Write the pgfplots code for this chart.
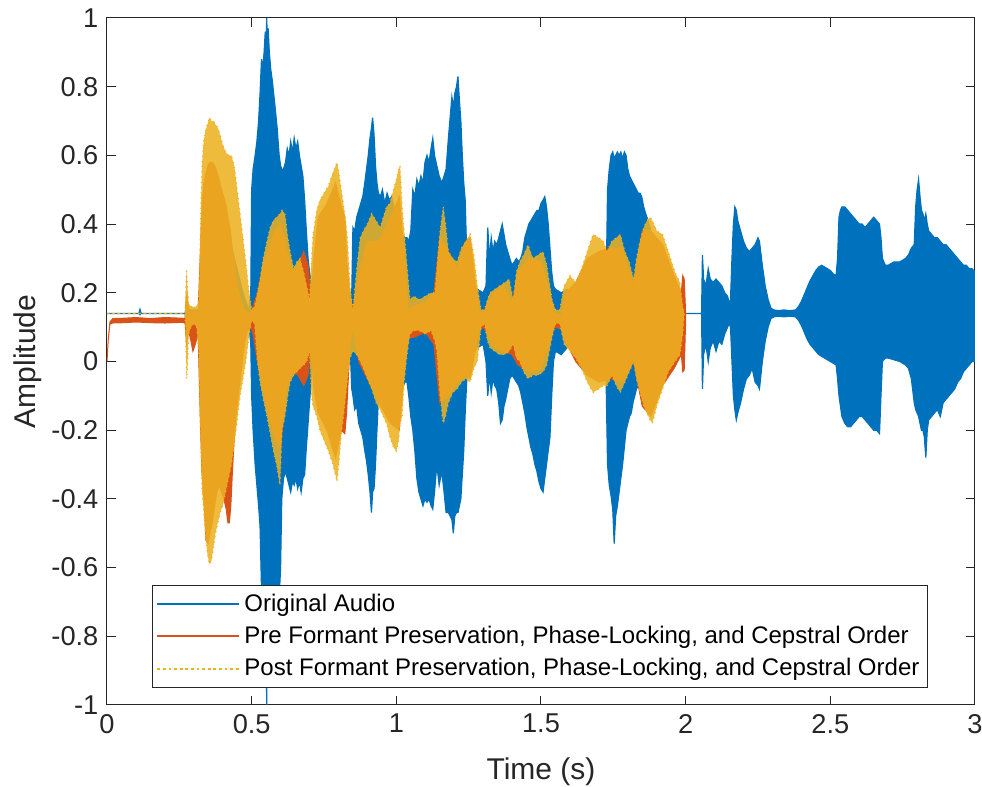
\documentclass[border=0pt]{standalone}
\usepackage{fontspec}
\setmainfont{Liberation Sans}
\usepackage{pgfplots}
\usepackage{pgfplotstable}
\pgfplotsset{compat=1.18}
\definecolor{mblue}{rgb}{0,0.447,0.741}
\definecolor{mred}{rgb}{0.85,0.325,0.098}
\definecolor{myellow}{rgb}{0.929,0.694,0.125}
\definecolor{axgray}{rgb}{0.15,0.15,0.15}

\pgfplotstableread{
t hi lo
0.000 0.140 0.140
0.110 0.140 0.140
0.114 0.152 0.136
0.118 0.140 0.140
0.270 0.140 0.140
0.276 0.170 0.110
0.285 0.150 0.125
0.320 0.150 0.125
0.330 0.300 -0.050
0.360 0.400 -0.200
0.400 0.450 -0.200
0.440 0.300 -0.050
0.470 0.200 0.050
0.490 0.150 0.110
0.497 0.200 0.050
0.500 0.500 -0.100
0.505 0.560 -0.200
0.512 0.600 -0.300
0.518 0.640 -0.360
0.524 0.700 -0.420
0.529 0.780 -0.480
0.534 0.880 -0.660
0.538 0.850 -0.720
0.543 0.900 -0.750
0.547 0.960 -0.780
0.550 0.920 -0.800
0.552 1.000 -1.000
0.554 0.940 -0.820
0.557 0.970 -0.800
0.561 0.900 -0.780
0.566 0.850 -0.760
0.571 0.820 -0.740
0.576 0.780 -0.720
0.581 0.740 -0.710
0.588 0.680 -0.700
0.595 0.600 -0.690
0.600 0.570 -0.600
0.604 0.560 -0.400
0.610 0.560 -0.340
0.617 0.580 -0.320
0.623 0.620 -0.340
0.629 0.600 -0.360
0.635 0.640 -0.380
0.641 0.610 -0.350
0.647 0.650 -0.360
0.653 0.620 -0.340
0.659 0.640 -0.370
0.665 0.600 -0.350
0.671 0.570 -0.380
0.677 0.540 -0.340
0.683 0.470 -0.330
0.689 0.380 -0.250
0.695 0.300 -0.180
0.700 0.260 -0.120
0.706 0.230 -0.050
0.712 0.220 0.000
0.730 0.240 -0.050
0.760 0.250 -0.100
0.790 0.260 -0.120
0.820 0.240 -0.080
0.840 0.200 0.050
0.846 0.200 -0.080
0.850 0.390 -0.100
0.856 0.380 -0.140
0.863 0.420 -0.130
0.870 0.440 -0.180
0.877 0.460 -0.200
0.884 0.480 -0.220
0.891 0.520 -0.260
0.897 0.560 -0.290
0.903 0.600 -0.330
0.909 0.650 -0.380
0.914 0.680 -0.440
0.918 0.710 -0.380
0.923 0.660 -0.370
0.928 0.570 -0.300
0.933 0.520 -0.200
0.938 0.490 -0.110
0.945 0.480 -0.110
0.952 0.500 -0.120
0.960 0.460 -0.100
0.968 0.490 -0.110
0.976 0.470 -0.120
0.984 0.480 -0.100
0.992 0.450 -0.120
1.000 0.440 -0.120
1.010 0.400 -0.100
1.020 0.370 -0.080
1.030 0.360 -0.060
1.037 0.360 -0.060
1.043 0.350 -0.100
1.050 0.380 -0.160
1.057 0.500 -0.200
1.064 0.480 -0.260
1.071 0.530 -0.340
1.078 0.510 -0.380
1.085 0.540 -0.400
1.092 0.520 -0.420
1.099 0.580 -0.400
1.106 0.600 -0.410
1.113 0.580 -0.400
1.120 0.620 -0.420
1.126 0.650 -0.430
1.132 0.600 -0.380
1.140 0.570 -0.300
1.148 0.540 -0.360
1.157 0.520 -0.320
1.165 0.540 -0.380
1.172 0.560 -0.440
1.180 0.650 -0.440
1.186 0.710 -0.450
1.192 0.770 -0.460
1.197 0.740 -0.500
1.202 0.780 -0.450
1.208 0.800 -0.440
1.213 0.830 -0.440
1.218 0.760 -0.420
1.223 0.700 -0.400
1.228 0.600 -0.330
1.233 0.520 -0.260
1.238 0.470 -0.150
1.243 0.320 -0.060
1.250 0.250 0.000
1.260 0.220 0.020
1.280 0.210 0.040
1.300 0.200 0.050
1.310 0.220 0.000
1.316 0.390 -0.100
1.322 0.300 -0.040
1.328 0.360 -0.090
1.334 0.320 -0.050
1.340 0.350 -0.070
1.347 0.340 -0.080
1.354 0.360 -0.120
1.360 0.380 -0.180
1.366 0.400 -0.170
1.372 0.370 -0.130
1.378 0.340 -0.110
1.385 0.320 -0.080
1.392 0.300 -0.050
1.400 0.280 -0.040
1.408 0.290 -0.050
1.415 0.300 -0.060
1.423 0.290 -0.070
1.430 0.300 -0.090
1.437 0.320 -0.120
1.444 0.360 -0.150
1.451 0.380 -0.190
1.458 0.400 -0.220
1.465 0.410 -0.250
1.472 0.420 -0.270
1.479 0.430 -0.300
1.486 0.440 -0.320
1.493 0.440 -0.350
1.500 0.460 -0.370
1.507 0.470 -0.380
1.513 0.480 -0.340
1.519 0.450 -0.300
1.525 0.400 -0.260
1.531 0.330 -0.220
1.537 0.260 -0.100
1.543 0.220 0.000
1.550 0.210 0.030
1.570 0.200 0.020
1.590 0.210 0.040
1.600 0.190 0.060
1.650 0.220 0.050
1.700 0.230 0.040
1.725 0.200 -0.050
1.730 0.500 -0.300
1.736 0.560 -0.360
1.742 0.600 -0.390
1.748 0.610 -0.430
1.753 0.590 -0.530
1.758 0.600 -0.450
1.764 0.610 -0.420
1.770 0.600 -0.380
1.776 0.610 -0.340
1.782 0.590 -0.300
1.788 0.610 -0.250
1.794 0.600 -0.200
1.800 0.560 -0.180
1.806 0.540 -0.160
1.812 0.530 -0.150
1.818 0.520 -0.120
1.824 0.510 -0.100
1.830 0.500 -0.080
1.836 0.490 -0.070
1.842 0.490 -0.060
1.848 0.480 -0.060
1.855 0.450 -0.060
1.862 0.430 -0.060
1.870 0.410 -0.050
1.877 0.390 -0.050
1.885 0.350 -0.040
1.892 0.300 -0.030
1.900 0.250 0.000
1.950 0.220 0.020
1.985 0.200 0.050
1.990 0.140 0.140
2.055 0.140 0.140
2.058 0.310 -0.080
2.062 0.240 0.020
2.070 0.220 0.050
2.078 0.270 0.000
2.085 0.240 0.040
2.095 0.230 0.060
2.105 0.240 0.030
2.115 0.230 0.060
2.125 0.220 0.050
2.135 0.200 0.080
2.145 0.190 0.100
2.150 0.170 0.110
2.155 0.180 0.100
2.160 0.300 0.000
2.165 0.400 -0.100
2.170 0.450 -0.140
2.175 0.440 -0.170
2.180 0.410 -0.150
2.190 0.380 -0.120
2.200 0.350 -0.080
2.210 0.330 -0.050
2.220 0.320 -0.040
2.230 0.330 -0.020
2.240 0.340 -0.060
2.250 0.360 -0.070
2.255 0.350 -0.080
2.265 0.280 0.000
2.275 0.220 0.060
2.285 0.180 0.100
2.295 0.155 0.125
2.305 0.150 0.130
2.320 0.148 0.132
2.340 0.150 0.130
2.360 0.148 0.132
2.380 0.150 0.130
2.390 0.160 0.120
2.400 0.175 0.105
2.410 0.195 0.085
2.420 0.215 0.065
2.430 0.235 0.050
2.440 0.250 0.040
2.450 0.265 0.030
2.460 0.275 0.020
2.470 0.280 0.015
2.480 0.275 0.010
2.490 0.270 0.005
2.500 0.265 0.000
2.510 0.255 -0.005
2.520 0.250 -0.010
2.525 0.300 -0.050
2.530 0.420 -0.100
2.535 0.440 -0.130
2.540 0.450 -0.160
2.550 0.450 -0.180
2.560 0.440 -0.190
2.570 0.430 -0.190
2.580 0.420 -0.180
2.590 0.410 -0.170
2.600 0.400 -0.160
2.610 0.400 -0.160
2.620 0.390 -0.170
2.630 0.400 -0.180
2.640 0.410 -0.190
2.650 0.420 -0.200
2.660 0.410 -0.200
2.670 0.400 -0.210
2.675 0.360 -0.100
2.680 0.300 0.000
2.690 0.280 0.010
2.700 0.280 0.010
2.720 0.290 0.005
2.740 0.290 0.000
2.760 0.300 -0.010
2.770 0.310 -0.020
2.780 0.330 -0.050
2.790 0.340 -0.120
2.795 0.450 -0.140
2.800 0.500 -0.150
2.805 0.530 -0.160
2.810 0.480 -0.180
2.815 0.440 -0.200
2.820 0.430 -0.200
2.825 0.410 -0.220
2.830 0.430 -0.280
2.835 0.400 -0.200
2.840 0.380 -0.170
2.850 0.370 -0.160
2.860 0.360 -0.150
2.870 0.360 -0.140
2.880 0.350 -0.160
2.890 0.340 -0.120
2.900 0.340 -0.110
2.910 0.330 -0.100
2.920 0.320 -0.090
2.930 0.310 -0.080
2.940 0.300 -0.060
2.950 0.290 -0.050
2.960 0.280 -0.030
2.970 0.280 -0.020
2.980 0.270 -0.010
2.990 0.270 0.000
3.000 0.260 0.000
}\bluedata

\pgfplotstableread{
t hi lo
0.000 0.000 0.000
0.004 0.060 0.060
0.010 0.115 0.110
0.020 0.125 0.112
0.060 0.126 0.113
0.100 0.128 0.115
0.150 0.125 0.113
0.200 0.128 0.112
0.260 0.126 0.114
0.270 0.125 0.112
0.275 0.200 0.050
0.282 0.150 0.090
0.290 0.140 0.060
0.297 0.150 0.030
0.305 0.140 0.050
0.315 0.140 0.080
0.322 0.300 -0.150
0.328 0.450 -0.320
0.335 0.520 -0.400
0.342 0.550 -0.520
0.349 0.570 -0.530
0.356 0.580 -0.500
0.364 0.580 -0.470
0.372 0.570 -0.420
0.380 0.550 -0.380
0.388 0.530 -0.360
0.396 0.500 -0.380
0.404 0.480 -0.400
0.412 0.450 -0.430
0.418 0.420 -0.470
0.423 0.400 -0.470
0.428 0.370 -0.420
0.433 0.330 -0.330
0.440 0.280 -0.220
0.447 0.240 -0.150
0.455 0.200 -0.090
0.465 0.170 -0.020
0.475 0.150 0.050
0.485 0.140 0.090
0.497 0.140 0.100
0.505 0.160 0.080
0.520 0.200 0.000
0.540 0.280 -0.080
0.560 0.330 -0.160
0.580 0.380 -0.220
0.600 0.400 -0.250
0.620 0.330 -0.080
0.640 0.260 -0.030
0.660 0.280 -0.040
0.680 0.320 -0.070
0.695 0.280 -0.040
0.705 0.180 0.050
0.715 0.300 -0.080
0.730 0.420 -0.150
0.760 0.460 -0.200
0.790 0.520 -0.280
0.810 0.450 -0.200
0.822 0.420 -0.210
0.828 0.300 -0.150
0.840 0.180 0.050
0.850 0.150 0.100
0.870 0.250 0.000
0.900 0.350 -0.050
0.940 0.350 -0.120
0.980 0.420 -0.180
1.010 0.480 -0.200
1.030 0.280 0.000
1.040 0.150 0.070
1.060 0.160 0.070
1.100 0.170 0.085
1.130 0.200 0.050
1.150 0.360 -0.120
1.180 0.320 -0.100
1.210 0.270 -0.060
1.240 0.350 -0.040
1.255 0.360 -0.050
1.270 0.250 0.020
1.285 0.150 0.090
1.300 0.140 0.100
1.315 0.170 0.080
1.340 0.200 0.040
1.370 0.220 0.030
1.400 0.170 0.020
1.420 0.260 -0.010
1.460 0.300 -0.030
1.500 0.290 -0.020
1.530 0.200 0.060
1.545 0.140 0.100
1.570 0.135 0.095
1.585 0.200 0.060
1.620 0.230 0.000
1.660 0.300 -0.040
1.700 0.320 -0.060
1.740 0.330 -0.050
1.780 0.330 -0.060
1.820 0.220 0.000
1.850 0.380 -0.130
1.880 0.380 -0.160
1.920 0.340 -0.070
1.960 0.250 -0.020
1.985 0.200 0.020
1.990 0.250 -0.030
1.995 0.240 -0.025
2.000 0.140 0.120
}\reddata

\pgfplotstableread{
t hi lo
0.000 0.140 0.140
0.270 0.140 0.140
0.272 0.200 0.080
0.275 0.270 -0.050
0.278 0.220 -0.020
0.282 0.170 0.080
0.290 0.160 0.100
0.300 0.160 0.110
0.310 0.160 0.100
0.317 0.180 0.030
0.321 0.300 -0.150
0.325 0.470 -0.260
0.329 0.580 -0.380
0.334 0.640 -0.430
0.340 0.670 -0.500
0.347 0.690 -0.560
0.354 0.710 -0.590
0.361 0.700 -0.580
0.368 0.700 -0.540
0.375 0.690 -0.500
0.383 0.680 -0.470
0.391 0.660 -0.440
0.400 0.630 -0.420
0.410 0.610 -0.380
0.420 0.600 -0.340
0.430 0.600 -0.300
0.440 0.570 -0.240
0.450 0.500 -0.170
0.460 0.430 -0.100
0.470 0.360 -0.050
0.480 0.290 0.000
0.490 0.210 0.070
0.500 0.150 0.120
0.510 0.160 0.110
0.520 0.200 0.000
0.529 0.240 -0.060
0.540 0.300 -0.110
0.553 0.350 -0.160
0.564 0.390 -0.210
0.575 0.410 -0.260
0.586 0.420 -0.300
0.598 0.430 -0.360
0.605 0.440 -0.200
0.615 0.430 -0.160
0.625 0.360 -0.100
0.633 0.320 -0.060
0.645 0.270 -0.040
0.656 0.290 -0.030
0.667 0.300 -0.020
0.680 0.260 -0.010
0.690 0.220 0.000
0.700 0.180 0.030
0.707 0.300 -0.100
0.712 0.370 -0.130
0.725 0.440 -0.160
0.736 0.470 -0.200
0.750 0.490 -0.230
0.765 0.510 -0.260
0.781 0.550 -0.300
0.795 0.580 -0.350
0.803 0.540 -0.280
0.810 0.500 -0.210
0.820 0.440 -0.140
0.830 0.370 -0.060
0.840 0.220 0.010
0.850 0.150 0.030
0.863 0.270 0.020
0.875 0.360 0.000
0.886 0.380 -0.020
0.900 0.400 -0.050
0.915 0.430 -0.080
0.930 0.410 -0.120
0.944 0.390 -0.140
0.955 0.420 -0.160
0.966 0.450 -0.180
0.978 0.460 -0.220
0.990 0.500 -0.250
1.000 0.530 -0.260
1.008 0.560 -0.230
1.013 0.570 -0.180
1.020 0.450 -0.160
1.027 0.380 -0.060
1.037 0.280 0.020
1.047 0.180 0.080
1.060 0.190 0.090
1.080 0.180 0.090
1.100 0.190 0.080
1.120 0.200 0.090
1.133 0.200 0.060
1.140 0.270 0.030
1.150 0.370 -0.090
1.162 0.450 -0.180
1.170 0.400 -0.160
1.180 0.320 -0.120
1.195 0.300 -0.090
1.210 0.290 -0.080
1.225 0.330 -0.060
1.240 0.350 -0.050
1.255 0.370 -0.060
1.268 0.310 -0.020
1.280 0.220 0.000
1.293 0.150 0.100
1.305 0.150 0.110
1.315 0.180 0.060
1.324 0.200 0.040
1.340 0.210 0.030
1.357 0.220 0.020
1.375 0.230 0.020
1.390 0.240 0.030
1.404 0.180 0.050
1.415 0.260 0.010
1.427 0.290 0.000
1.440 0.310 -0.030
1.455 0.340 -0.050
1.472 0.300 -0.040
1.490 0.310 -0.040
1.507 0.320 -0.030
1.520 0.280 -0.010
1.538 0.180 0.070
1.550 0.150 0.110
1.565 0.150 0.110
1.580 0.220 0.050
1.600 0.250 0.030
1.620 0.230 0.010
1.640 0.270 -0.020
1.660 0.320 -0.060
1.680 0.370 -0.090
1.700 0.360 -0.080
1.715 0.350 -0.070
1.728 0.320 -0.070
1.745 0.350 -0.040
1.760 0.360 -0.070
1.774 0.370 -0.090
1.790 0.320 -0.060
1.805 0.290 -0.030
1.820 0.240 0.000
1.830 0.300 -0.050
1.842 0.350 -0.090
1.855 0.390 -0.130
1.866 0.410 -0.150
1.877 0.420 -0.170
1.885 0.410 -0.180
1.900 0.380 -0.130
1.920 0.370 -0.080
1.940 0.320 -0.030
1.963 0.260 0.000
1.980 0.230 0.020
1.990 0.160 0.080
1.995 0.140 0.140
}\yellowdata

% outline of each waveform: upper envelope forward in time, lower envelope backward
\pgfplotstablesort[sort key=t,sort cmp=float >]{\bluerev}{\bluedata}
\pgfplotstablecreatecol[create col/copy=hi]{y}{\bluedata}
\pgfplotstablecreatecol[create col/copy=lo]{y}{\bluerev}
\pgfplotstablevertcat{\bluedata}{\bluerev}

\pgfplotstablesort[sort key=t,sort cmp=float >]{\redrev}{\reddata}
\pgfplotstablecreatecol[create col/copy=hi]{y}{\reddata}
\pgfplotstablecreatecol[create col/copy=lo]{y}{\redrev}
\pgfplotstablevertcat{\reddata}{\redrev}

\pgfplotstablesort[sort key=t,sort cmp=float >]{\yellowrev}{\yellowdata}
\pgfplotstablecreatecol[create col/copy=hi]{y}{\yellowdata}
\pgfplotstablecreatecol[create col/copy=lo]{y}{\yellowrev}
\pgfplotstablevertcat{\yellowdata}{\yellowrev}

\begin{document}
\begin{tikzpicture}
\path[use as bounding box] (0,0) rectangle (491pt,393.5pt);
\begin{axis}[
  at={(53.5pt,41pt)}, anchor=south west,
  scale only axis, width=434pt, height=343.5pt,
  xmin=0, xmax=3, ymin=-1, ymax=1,
  xtick={0,0.5,1,1.5,2,2.5,3},
  xticklabels={0,0.5,1,1.5,2,2.5,3},
  ytick={-1,-0.8,-0.6,-0.4,-0.2,0,0.2,0.4,0.6,0.8,1},
  yticklabels={-1,-0.8,-0.6,-0.4,-0.2,0,0.2,0.4,0.6,0.8,1},
  /pgf/number format/assume math mode=true,
  tick align=inside, major tick length=4.3pt,
  axis line style={axgray, line width=0.5pt},
  tick style={axgray, line width=0.5pt},
  ticklabel style={font=\fontsize{13.6}{16}\selectfont, text=axgray},
  yticklabel style={xshift=-0.8pt},
  xticklabel style={yshift=-1pt},
  xlabel={Time (s)}, ylabel={Amplitude},
  label style={font=\fontsize{15}{18}\selectfont, text=axgray},
  xlabel style={at={(axis description cs:0.5,-0.097)}, anchor=center},
  ylabel style={at={(axis description cs:-0.091,0.5)}, anchor=center},
  legend style={at={(axis description cs:0.0518,0.0247)}, anchor=south west,
    draw=axgray, line width=0.5pt, fill=white,
    font=\fontsize{12}{14.6}\selectfont, text=black,
    inner xsep=2pt, inner ysep=2.3pt, row sep=2pt},
  legend cell align=left,
  legend image code/.code={\draw[#1] (0pt,0pt) -- (41pt,0pt);},
]
\addplot[fill=mblue, draw=mblue, line width=0.6pt, forget plot] table[x=t,y=y]{\bluedata};
\addplot[fill=mred, draw=mred, line width=0.5pt, forget plot] table[x=t,y=y]{\reddata};
\addplot[fill=myellow, fill opacity=0.87, draw=myellow, dotted, line width=0.6pt, forget plot] table[x=t,y=y]{\yellowdata};

\addlegendimage{draw=mblue, line width=1pt}
\addlegendentry{Original Audio}
\addlegendimage{draw=mred, line width=1pt}
\addlegendentry{Pre Formant Preservation, Phase-Locking, and Cepstral Order}
\addlegendimage{draw=myellow, line width=0.9pt, dash pattern=on 1.4pt off 1.4pt}
\addlegendentry{Post Formant Preservation, Phase-Locking, and Cepstral Order}
\end{axis}
\end{tikzpicture}
\end{document}
